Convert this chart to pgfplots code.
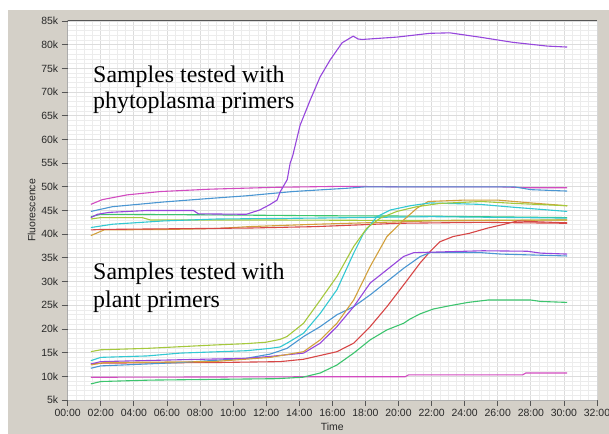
\documentclass[border=0pt]{standalone}
\usepackage{fontspec}
\setmainfont{Liberation Serif}
\newfontfamily\uifont{Liberation Sans}
\usepackage{pgfplots}
\pgfplotsset{compat=1.18}

\definecolor{panel}{RGB}{212,208,200}
\definecolor{gridmaj}{RGB}{220,220,220}
\definecolor{gridmin}{RGB}{236,236,236}
\definecolor{framedark}{RGB}{85,85,85}
\definecolor{framelight}{RGB}{175,175,175}
\definecolor{labelc}{RGB}{40,40,40}
% series colours
\definecolor{purp}{RGB}{150,70,220}
\definecolor{pinkm}{RGB}{210,75,192}
\definecolor{blueL}{RGB}{74,150,210}
\definecolor{greenL}{RGB}{60,196,110}
\definecolor{ygreen}{RGB}{165,200,60}
\definecolor{cyanL}{RGB}{50,200,210}
\definecolor{redL}{RGB}{215,70,70}
\definecolor{orangeL}{RGB}{210,160,60}

\begin{document}
\begin{tikzpicture}
\fill[panel] (-59.7bp,-34bp) rectangle (541.3bp,390bp);
\begin{axis}[
  at={(0,0)}, anchor=south west,
  scale only axis, width=529.3bp, height=379bp,
  xmin=0, xmax=32, ymin=5, ymax=85,
  axis background/.style={fill=white},
  axis line style={draw=none},
  xtick={0,2,...,32},
  xticklabels={00:00,02:00,04:00,06:00,08:00,10:00,12:00,14:00,16:00,18:00,20:00,22:00,24:00,26:00,28:00,30:00,32:00},
  ytick={5,10,...,85},
  yticklabels={5k,10k,15k,20k,25k,30k,35k,40k,45k,50k,55k,60k,65k,70k,75k,80k,85k},
  minor x tick num=3, minor y tick num=4,
  grid=both,
  major grid style={draw=gridmaj, line width=0.8bp},
  minor grid style={draw=gridmin, line width=0.7bp},
  tick align=outside, major tick length=6bp, minor tick length=0pt,
  tick style={draw=framedark, line width=0.8bp},
  xtick pos=left, ytick pos=left,
  /pgf/number format/assume math mode=true,
  ticklabel style={font=\uifont\fontsize{10.5}{12}\selectfont, text=labelc},
  xlabel={Time}, ylabel={Fluorescence},
  label style={font=\uifont\fontsize{10.5}{12}\selectfont, text=labelc},
  xlabel style={at={(axis description cs:0.5,0)}, anchor=north, yshift=-23bp, inner sep=0pt},
  ylabel style={at={(axis description cs:-0.068,0.5)}, anchor=center},
  every axis plot/.append style={line width=1.1bp, no markers},
]
% phytoplasma primers
\addplot[pinkm] coordinates {(1.4,46.3)(2.1,47.3)(3.6,48.3)(5.6,49.0)(8.6,49.5)(12.6,49.9)(16.6,50.1)(20,50.0)(26,50.0)(28,49.8)(30.2,49.8)};
\addplot[blueL] coordinates {(1.4,44.8)(2.7,45.8)(5.8,46.8)(8.8,47.6)(10.8,48.1)(13.6,49.0)(16.9,49.7)(18,50.0)(27,50.0)(28,49.4)(30.2,49.1)};
\addplot[greenL] coordinates {(1.4,43.7)(2.0,44.2)(8,44.1)(15,43.9)(22,43.8)(30.2,43.5)};
\addplot[ygreen] coordinates {(1.4,43.2)(2.0,43.5)(4.5,43.5)(5,43.0)(12,43.0)(20,42.9)(30.2,43.0)};
\addplot[cyanL] coordinates {(1.4,41.4)(2.7,42.1)(5.8,42.8)(9.0,43.2)(15,43.4)(22,43.7)(30.2,43.4)};
\addplot[orangeL] coordinates {(1.4,39.7)(2.2,40.9)(6,41.0)(9,41.2)(11,41.6)(15,42.1)(22,42.8)(30.2,43.0)};
\addplot[redL] coordinates {(1.4,40.9)(2.0,41.0)(11,41.3)(15,41.6)(20,42.3)(25,42.5)(30.2,42.3)};
\addplot[purp] coordinates {(1.4,43.5)(1.8,44.2)(2.5,44.6)(4.8,45.0)(7.6,45.0)(7.9,44.3)(10.8,44.2)(11.6,45.1)(12.2,46.2)(12.66,47.2)(12.84,48.9)(13.27,51.5)(13.45,55.0)(13.6,56.5)(14.05,63.0)(14.66,68.3)(15.26,73.2)(15.87,76.8)(16.59,80.4)(17.26,81.8)(17.56,81.2)(17.8,81.1)(19.9,81.6)(21.9,82.4)(23.1,82.5)(24.9,81.6)(26.9,80.5)(29.0,79.7)(30.2,79.5)};
% plant primers
\addplot[pinkm] coordinates {(1.4,9.8)(14,9.9)(20.4,9.9)(20.6,10.3)(27.5,10.3)(27.7,10.7)(30.2,10.7)};
\addplot[greenL] coordinates {(1.4,8.4)(2.0,8.9)(5,9.2)(10,9.4)(12.6,9.5)(14.2,9.8)(15.27,10.7)(16.28,12.4)(17.29,14.9)(18.29,17.7)(19.3,19.8)(20.31,21.2)(20.7,22.1)(21.32,23.2)(22.1,24.2)(23.1,24.9)(24.2,25.6)(25.4,26.1)(28,26.1)(28.6,25.8)(30.2,25.6)};
\addplot[redL] coordinates {(1.4,12.6)(2.2,12.8)(8.8,12.9)(12.84,13.1)(14.26,13.6)(16.28,15.2)(17.29,17.0)(18.29,20.5)(19.3,24.7)(20.31,29.3)(20.7,31.1)(21.3,33.9)(21.9,36.3)(22.5,38.4)(23.3,39.5)(24.3,40.2)(25.4,41.3)(26.4,42.1)(27.2,42.8)(28.5,42.6)(30.2,42.4)};
\addplot[blueL] coordinates {(1.4,11.7)(2.0,12.2)(6.8,12.9)(10.8,13.8)(12.25,14.7)(13.26,15.9)(14.26,18.4)(15.27,20.5)(16.28,23.0)(17.29,24.7)(18.29,27.2)(19.3,30.0)(20.31,32.8)(21.32,35.3)(21.9,36.1)(25,36.1)(26.2,35.8)(30.2,35.4)};
\addplot[purp] coordinates {(1.4,12.6)(2.0,13.1)(6.8,13.5)(10.8,13.8)(12.25,14.2)(14.26,14.9)(15.27,17.0)(16.28,20.5)(17.29,24.7)(18.29,29.7)(19.3,32.5)(20.31,35.3)(20.92,36.1)(25.1,36.5)(27.8,36.4)(28.6,36.0)(30.2,35.8)};
\addplot[orangeL] coordinates {(1.4,12.4)(2.2,12.9)(8.8,13.1)(12.25,14.0)(14.26,15.2)(15.27,17.7)(16.28,21.2)(17.29,26.1)(18.29,33.2)(19.3,39.5)(20.31,43.0)(21.12,45.5)(21.8,46.9)(24,47.2)(26,47.2)(28,46.6)(30.2,46.0)};
\addplot[cyanL] coordinates {(1.4,13.3)(2.0,14.0)(4.8,14.3)(6.8,14.9)(10.8,15.4)(12.25,15.9)(12.84,16.2)(13.26,17.0)(14.26,19.1)(15.27,23.3)(16.28,28.3)(17.29,36.0)(17.89,40.2)(18.7,43.7)(19.5,45.1)(20.7,46.0)(21.9,46.6)(24.9,46.3)(26.9,45.7)(30.2,44.8)};
\addplot[ygreen] coordinates {(1.4,15.2)(2.0,15.6)(4.8,15.9)(8.8,16.6)(10.8,16.9)(12.0,17.2)(12.84,17.8)(13.26,18.4)(14.26,21.2)(15.27,26.1)(16.28,31.1)(17.29,37.4)(18.09,41.3)(18.9,43.4)(19.9,44.8)(21.1,45.8)(22.5,46.5)(25,46.9)(27,46.5)(30.2,46.0)};
% annotations
\node[anchor=base west, inner sep=0pt, font=\fontsize{24}{28}\selectfont] at (axis cs:1.53,72.1) {Samples tested with};
\node[anchor=base west, inner sep=0pt, font=\fontsize{24}{28}\selectfont] at (axis cs:1.53,66.6) {phytoplasma primers};
\node[anchor=base west, inner sep=0pt, font=\fontsize{24}{28}\selectfont] at (axis cs:1.53,30.4) {Samples tested with};
\node[anchor=base west, inner sep=0pt, font=\fontsize{24}{28}\selectfont] at (axis cs:1.53,24.5) {plant primers};
% sunken frame
\draw[framelight, line width=1bp] (rel axis cs:0,0) -- (rel axis cs:1,0) -- (rel axis cs:1,1);
\draw[framedark, line width=1bp] (rel axis cs:0,0) -- (rel axis cs:0,1) -- (rel axis cs:1,1);
\end{axis}
\pgfresetboundingbox
\useasboundingbox (-67.7bp,-34bp) rectangle (541.3bp,400bp);
\end{tikzpicture}
\end{document}
